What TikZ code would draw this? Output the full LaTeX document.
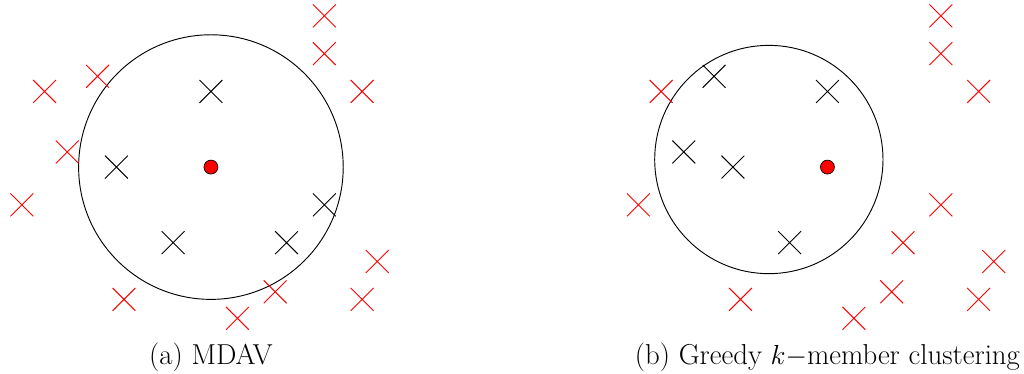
\documentclass[tikz,border=0pt]{standalone}
\usepackage{amsmath,amssymb}
\usepackage{xcolor}
\usetikzlibrary{shapes.misc,positioning}

\begin{document}
\begin{tikzpicture}[
    blackx/.style={cross out, draw=black, line width=0.7pt, minimum size=0.58cm, inner sep=0pt},
    redx/.style={cross out, draw=red, line width=0.7pt, minimum size=0.58cm, inner sep=0pt},
    centroid/.style={circle, fill=red, draw=black, line width=0.5pt, minimum size=0.37cm, inner sep=0pt},
    ball/.style={circle, draw=black, line width=0.7pt, inner sep=0pt},
    subcap/.style={font=\fontsize{21.7}{26}\selectfont}
  ]
  \useasboundingbox (-5.58,-5.45) rectangle (21.51,4.42);

  % (a) MDAV
  \begin{scope}
    \node[ball, minimum size=7cm] (ballA) at (0,0) {};
    \node[centroid] (cA) at (0,0) {};
    \foreach \p [count=\i] in {(0,2),(-2.5,0),(-1,-2),(2,-2),(3,-1)}
      \node[blackx] (a-b\i) at \p {};
    \foreach \p [count=\i] in {(3,4),(3,3),(4,2),(-4.4,2),(-3,2.4),(-3.8,0.4),(-5,-1),
                               (4.4,-2.5),(4,-3.5),(1.7,-3.3),(0.7,-4),(-2.3,-3.5)}
      \node[redx] (a-r\i) at \p {};
    \node[subcap] (capA) at (0,-5.03) {(a) MDAV};
  \end{scope}

  % (b) greedy k-member
  \begin{scope}[xshift=16.31cm]
    \node[ball, minimum size=6.04cm] (ballB) at (-1.55,0.2) {};
    \node[centroid] (cB) at (0,0) {};
    \foreach \p [count=\i] in {(-3,2.4),(0,2),(-3.8,0.4),(-2.5,0),(-1,-2)}
      \node[blackx] (b-b\i) at \p {};
    \foreach \p [count=\i] in {(3,4),(3,3),(4,2),(-4.4,2),(-5,-1),(3,-1),(2,-2),
                               (4.4,-2.5),(4,-3.5),(1.7,-3.3),(0.7,-4),(-2.3,-3.5)}
      \node[redx] (b-r\i) at \p {};
    \node[subcap] (capB) at (0,-5.03) {(b) Greedy $k-$member clustering};
  \end{scope}
\end{tikzpicture}
\end{document}
